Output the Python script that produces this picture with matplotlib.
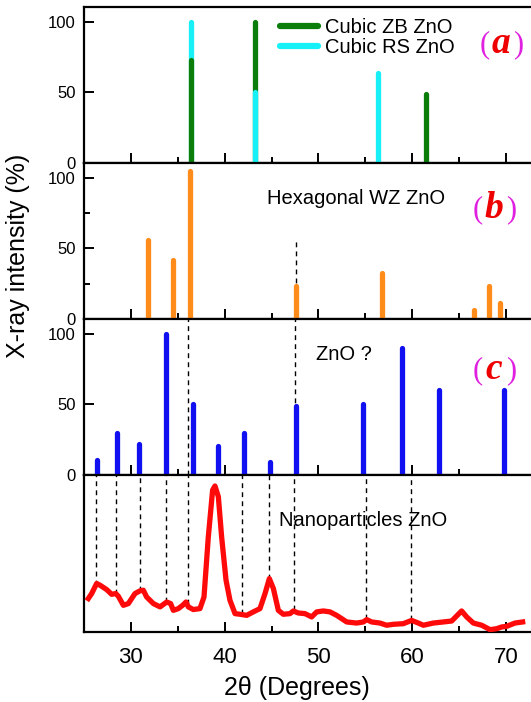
import matplotlib
matplotlib.use('Agg')
import matplotlib.pyplot as plt
from matplotlib.lines import Line2D

plt.rcParams['font.family'] = ['Liberation Sans', 'DejaVu Sans']

# --- data ---
# (a) cubic reference peaks
zb_pos = [36.4, 43.2, 61.5]
zb_int = [73, 100, 49]
rs_pos = [36.4, 43.2, 56.4]
rs_int = [100, 50, 64]
# (b) hexagonal wurtzite
wz_pos = [31.85, 34.45, 36.3, 47.65, 56.8, 66.55, 68.2, 69.35]
wz_int = [56, 42, 105, 23.5, 32.5, 6.5, 23.5, 11.5]
# (c) unknown ZnO phase
unk_pos = [26.35, 28.5, 30.9, 33.75, 36.6, 39.25, 42.05, 44.85, 47.65,
           54.75, 58.9, 62.9, 69.8]
unk_int = [10.5, 30, 22, 100, 50.5, 20.5, 30, 9.5, 49, 50, 90, 60, 60]
# (d) measured nanoparticle pattern (arb. units)
nano_2theta = [25.46, 25.82, 26.35, 26.71, 27.42, 27.95, 28.38, 28.66, 29.20, 29.73,
               30.44, 30.97, 31.33, 31.68, 32.40, 33.11, 33.82, 34.24, 34.53, 35.06,
               35.52, 35.88, 36.13, 36.66, 37.37, 37.80, 38.26, 38.72, 38.97, 39.33,
               39.68, 40.15, 40.57, 41.11, 41.64, 42.35, 43.06, 43.77, 44.31, 44.77,
               45.20, 45.73, 46.26, 46.97, 47.33, 47.86, 48.57, 49.28, 49.82, 50.53,
               51.24, 51.95, 53.02, 54.08, 54.80, 55.15, 55.68, 56.57, 57.28, 57.99,
               59.06, 59.95, 60.66, 61.20, 62.26, 63.33, 64.22, 64.93, 65.28, 65.82,
               66.53, 67.42, 68.31, 69.02, 69.55, 70.08, 70.97, 71.79]
nano_int = [21.3, 24.5, 30.9, 29.8, 27.0, 24.0, 24.5, 22.8, 17.0, 18.1,
            24.5, 26.2, 26.6, 22.3, 18.1, 16.0, 19.1, 18.1, 13.8, 14.9,
            17.0, 19.1, 16.0, 14.3, 14.9, 22.3, 60.6, 90.4, 93.0, 86.2,
            60.6, 33.0, 20.2, 11.7, 11.3, 10.6, 12.8, 14.9, 24.5, 34.0,
            27.7, 13.8, 11.3, 11.7, 13.4, 12.1, 11.7, 9.6, 12.8, 13.4,
            12.8, 10.6, 6.4, 5.7, 6.4, 7.9, 6.4, 5.7, 4.3, 4.9,
            5.3, 7.4, 5.7, 4.3, 5.7, 6.4, 7.0, 11.3, 13.4, 9.6,
            5.7, 4.3, 1.5, 2.1, 3.2, 3.6, 5.7, 6.4]
# dashed guide lines
guide_x = [26.3, 28.4, 30.97, 33.75, 36.1, 41.9, 44.77, 47.45, 55.1, 59.9]
guide_end = [30, 24.5, 26, 19, 18, 11.7, 34, 14, 8.5, 7.4]
long_guides = [36.1, 47.55]
wz_guide_x, wz_guide_top = 47.6, 55

W, H = 531, 702
fig = plt.figure(figsize=(W / 100, H / 100), dpi=100)

left = 84 / W
width = 50 * 9.375 / W
edges = [7, 163, 319, 475, 632]
axes = []
for i in range(4):
    b = 1 - edges[i + 1] / H
    h = (edges[i + 1] - edges[i]) / H
    ax = fig.add_axes([left, b, width, h])
    axes.append(ax)
ax_a, ax_b, ax_c, ax_d = axes

for ax in axes:
    ax.set_xlim(25, 75)
    for s in ax.spines.values():
        s.set_linewidth(1.6)
    ax.spines['right'].set_visible(False)
    ax.set_xticks(range(30, 80, 10))
    ax.set_xticks(range(35, 80, 10), minor=True)
    ax.tick_params(axis='x', which='both', direction='in', top=False, width=1.4)
    ax.tick_params(axis='x', which='major', length=7)
    ax.tick_params(axis='x', which='minor', length=4)
    ax.tick_params(axis='y', which='both', direction='in', right=False, width=1.4,
                   labelsize=12, pad=6)
    ax.tick_params(axis='y', which='major', length=7)
    ax.tick_params(axis='y', which='minor', length=4)

for ax in [ax_a, ax_b, ax_c]:
    ax.set_ylim(0, 110.5)
    ax.set_yticks([0, 50, 100])
    ax.tick_params(axis='x', labelbottom=False)
ax_b.set_yticks([25, 75], minor=True)

lw_bar = 3.8
dash = dict(color='black', lw=1.0, linestyle=(0, (3.5, 3)))

# (a)
peaks = [(p, h, '#0a7d0a') for p, h in zip(zb_pos, zb_int)] + \
        [(p, h, '#18f0f8') for p, h in zip(rs_pos, rs_int)]
for p, h, c in peaks:
    ax_a.vlines(p, 0, h, color=c, lw=lw_bar, capstyle='round', zorder=3 + (120 - h) / 100)
handles = [Line2D([], [], color='#0a7d0a', lw=4.5, solid_capstyle='round'),
           Line2D([], [], color='#18f0f8', lw=4.5, solid_capstyle='round')]
ax_a.legend(handles, ['Cubic ZB ZnO', 'Cubic RS ZnO'], loc='upper left',
            bbox_to_anchor=(0.395, 1.0), frameon=False, fontsize=14.5,
            handlelength=1.9, handletextpad=0.3, labelspacing=0.05,
            borderaxespad=0.15)

# (b)
ax_b.vlines(wz_guide_x, 0, wz_guide_top, **dash)
ax_b.vlines(wz_pos, 0, wz_int, color='#ff8c1a', lw=lw_bar, capstyle='round', zorder=3)
ax_b.text(0.39, 0.77, 'Hexagonal WZ ZnO', transform=ax_b.transAxes, fontsize=14.5,
          va='center')

# (c)
for gx in long_guides:
    ax_c.axvline(gx, **dash)
ax_c.vlines(unk_pos, 0, unk_int, color='#1010f0', lw=lw_bar, capstyle='round', zorder=3)
ax_c.text(0.495, 0.77, 'ZnO ?', transform=ax_c.transAxes, fontsize=14.5, va='center')

# (d)
ax_d.set_ylim(0, 100)
ax_d.set_yticks([])
ax_d.vlines(guide_x, guide_end, 100, **dash)
ax_d.plot(nano_2theta, nano_int, color='#ff0a0a', lw=3.8, solid_joinstyle='round', zorder=3)
ax_d.text(0.415, 0.71, 'Nanoparticles ZnO', transform=ax_d.transAxes, fontsize=14.5,
          va='center')
ax_d.tick_params(axis='x', labelsize=16, pad=11)


def panel_tag(ax, letter, fx, fy):
    kw = dict(xycoords='axes fraction', textcoords='offset points', va='center',
              ha='center', family=['Liberation Serif', 'DejaVu Serif'])
    ax.annotate('(', (fx, fy), xytext=(-12, 0), color='#e020e0', fontsize=22, **kw)
    ax.annotate(')', (fx, fy), xytext=(12, 0), color='#e020e0', fontsize=22, **kw)
    ax.annotate(letter, (fx, fy), xytext=(0, 1), color='#ee0000', fontsize=27,
                fontweight='bold', fontstyle='italic', **kw)


panel_tag(ax_a, 'a', 0.89, 0.76)
panel_tag(ax_b, 'b', 0.875, 0.70)
panel_tag(ax_c, 'c', 0.875, 0.67)

fig.text(0.033, 0.635, 'X-ray intensity (%)', rotation=90, fontsize=18,
         ha='center', va='center')
fig.text(0.56, 0.02, '2θ (Degrees)', fontsize=18, ha='center', va='center')

fig.savefig('out.png', dpi=100)
